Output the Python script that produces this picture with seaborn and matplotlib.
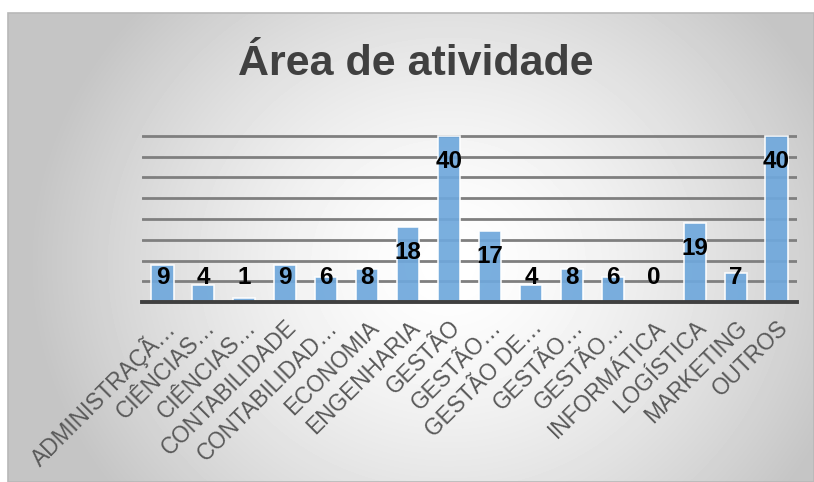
import numpy as np
import pandas as pd
import matplotlib.pyplot as plt
from matplotlib.patches import Rectangle
import seaborn as sns

# dados
categorias = ["ADMINISTRAÇÃ…", "CIÊNCIAS…", "CIÊNCIAS…", "CONTABILIDADE",
              "CONTABILIDAD…", "ECONOMIA", "ENGENHARIA", "GESTÃO",
              "GESTÃO…", "GESTÃO DE…", "GESTÃO…", "GESTÃO…",
              "INFORMÁTICA", "LOGÍSTICA", "MARKETING", "OUTROS"]
valores = [9, 4, 1, 9, 6, 8, 18, 40, 17, 4, 8, 6, 0, 19, 7, 40]
titulo = "Área de atividade"

sns.set_theme(style="white")
plt.rcParams['font.family'] = ['Liberation Sans', 'DejaVu Sans']

W, H = 814, 482
fig = plt.figure(figsize=(W / 100, H / 100), dpi=100, facecolor='white')

# fundo com gradiente radial (branco no centro, cinza nas bordas)
bg = fig.add_axes([8 / W, 0, 1 - 8 / W, 1 - 13 / H])
h, w = H - 13, W - 8
yy, xx = np.mgrid[0:h, 0:w]
r = np.sqrt(((xx - 440) / 420) ** 2 + ((yy - 250) / 380) ** 2)
shade = 1 - 0.23 * np.clip(r, 0, 1) ** 1.5
bg.imshow(shade, cmap='gray', vmin=0, vmax=1, aspect='auto', interpolation='bilinear')
bg.axis('off')
fig.patches.append(Rectangle((8 / W, 0), 1 - 8 / W, 1 - 13 / H, transform=fig.transFigure,
                             fill=False, edgecolor='#b8b8b8', linewidth=1.2))

# eixo principal
ymax = 40.4
ax = fig.add_axes([142 / W, 1 - 302 / H, 655 / W, (166 * ymax / 40) / H])
ax.set_facecolor('none')

df = pd.DataFrame({"area": range(len(valores)), "n": valores})
sns.barplot(data=df, x="area", y="n", color="#6fa8dc", saturation=1, width=0.54,
            edgecolor='white', linewidth=1.2, alpha=0.92, ax=ax, zorder=3)

ax.set_xlim(-0.5, len(valores) - 0.5)
ax.set_ylim(0, ymax)
ax.set_yticks(range(5, 45, 5))
ax.yaxis.grid(True, color='#7f7f7f', linewidth=2.0)
ax.set_axisbelow(True)
ax.tick_params(axis='y', left=False, labelleft=False)
ax.set_xlabel("")
ax.set_ylabel("")

for s in ['top', 'right', 'left']:
    ax.spines[s].set_visible(False)
ax.spines['bottom'].set_color('#404040')
ax.spines['bottom'].set_linewidth(2.8)
ax.spines['bottom'].set_zorder(4)

ax.set_xticks(range(len(categorias)))
ax.set_xticklabels(categorias, rotation=45, ha='right', rotation_mode='anchor',
                   fontsize=16.3, color='#595959')
ax.tick_params(axis='x', length=0, pad=10)

# rótulos de dados
for i, v in enumerate(valores):
    ax.text(i, max(v - 6.1, 5.85), str(v), ha='center', va='center',
            fontsize=17.5, fontweight='bold', color='black', zorder=5)

fig.text(0.511, 0.844, titulo, ha='center', va='baseline', fontsize=31,
         fontweight='bold', color='#404040')

fig.savefig('out.png', dpi=100)
